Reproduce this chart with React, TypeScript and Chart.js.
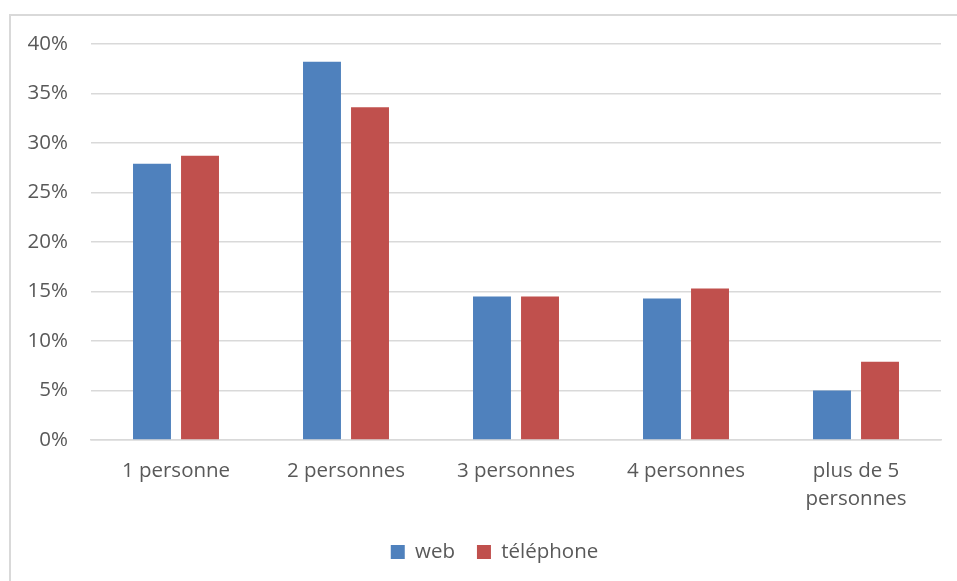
import React, { useEffect, useRef } from "react";
import { Chart, registerables } from "chart.js";

Chart.register(...registerables);

const categories: (string | string[])[] = [
  "1 personne",
  "2 personnes",
  "3 personnes",
  "4 personnes",
  ["plus de 5", "personnes"],
];
const webValues = [0.279, 0.382, 0.145, 0.143, 0.05];
const telephoneValues = [0.287, 0.336, 0.145, 0.153, 0.079];
const seriesNames = ["web", "téléphone"];
const yMax = 0.4;
const yStep = 0.05;

const FONT = "'Open Sans', sans-serif";
const TEXT = "#595959";
const GRID = "#d9d9d9";

const legendNudge = {
  id: "legendNudge",
  afterLayout(chart: any) {
    const lg = chart.legend;
    if (!lg) return;
    lg.left += 10;
    lg.right += 10;
    lg.top += 2.25;
    lg.bottom += 2.25;
  },
};

export default function App() {
  const ref = useRef<HTMLCanvasElement | null>(null);

  useEffect(() => {
    if (!ref.current) return;
    const chart = new Chart(ref.current, {
      type: "bar",
      data: {
        labels: categories,
        datasets: [
          {
            label: seriesNames[0],
            data: webValues,
            backgroundColor: "#4F81BD",
            categoryPercentage: 0.565,
            barPercentage: 0.79,
          },
          {
            label: seriesNames[1],
            data: telephoneValues,
            backgroundColor: "#C0504D",
            categoryPercentage: 0.565,
            barPercentage: 0.79,
          },
        ],
      },
      options: {
        animation: false,
        responsive: true,
        maintainAspectRatio: false,
        layout: { padding: { left: 17, right: 16, top: 28, bottom: 11 } },
        plugins: {
          tooltip: { enabled: false },
          legend: {
            position: "bottom",
            labels: {
              boxWidth: 14,
              boxHeight: 14,
              padding: 22,
              color: TEXT,
              font: { family: FONT, size: 20.5 },
            },
          },
        },
        scales: {
          x: {
            grid: { display: false, drawTicks: false },
            border: { display: true, color: GRID, width: 1.5 },
            ticks: {
              color: TEXT,
              padding: 17,
              maxRotation: 0,
              autoSkip: false,
              font: { family: FONT, size: 20.5, lineHeight: 1.37 },
            },
            afterFit: (s: any) => {
              s.height = 77.5;
              s.paddingLeft = 0;
              s.paddingRight = 0;
            },
          },
          y: {
            min: 0,
            max: yMax,
            grid: { color: GRID, lineWidth: 1.5, drawTicks: false },
            border: { display: false },
            ticks: {
              stepSize: yStep,
              padding: 23,
              color: TEXT,
              font: { family: FONT, size: 20.5 },
              callback: (v: any) => Math.round(Number(v) * 100) + "%",
            },
            afterFit: (s: any) => {
              s.width = 63;
              s.paddingTop = 0;
              s.paddingBottom = 0;
            },
          },
        },
      },
      plugins: [legendNudge],
    });
    return () => chart.destroy();
  }, []);

  return (
    <div
      style={{
        position: "fixed",
        left: 9,
        top: 14,
        right: 0,
        bottom: 0,
        borderLeft: "2px solid #d9d9d9",
        borderTop: "2px solid #d9d9d9",
        background: "#fff",
      }}
    >
      <canvas ref={ref} />
    </div>
  );
}
